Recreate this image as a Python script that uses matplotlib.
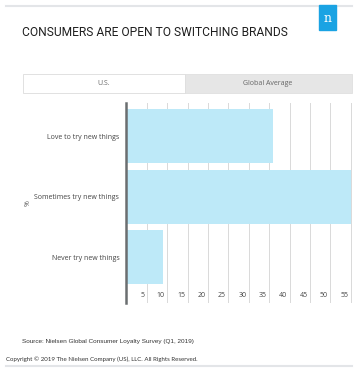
import matplotlib.pyplot as plt
from matplotlib.patches import Rectangle

# data (US, % of respondents)
answers = ["Love to try new things", "Sometimes try new things", "Never try new things"]
shares = [36, 55, 9]
ticks = [5, 10, 15, 20, 25, 30, 35, 40, 45, 50, 55]
tabs = ["U.S.", "Global Average"]

W, H = 359, 375
fig = plt.figure(figsize=(W / 100, H / 100), dpi=100)
fig.patch.set_facecolor("white")

def fx(px):
    return px / W

def fy(py):
    return 1 - py / H

# top rule and bottom rule
fig.add_artist(plt.Line2D([fx(6), fx(352)], [fy(6), fy(6)], color="#e3e5e8", lw=1.5))
fig.add_artist(plt.Line2D([fx(6), fx(352)], [fy(366), fy(366)], color="#e3e5e8", lw=1.5))

# nielsen logo
fig.add_artist(Rectangle((fx(319), fy(30)), fx(17), 25 / H, color="#1aa3e3", zorder=3))
fig.text(fx(327.5), fy(19), "n", color="white", fontsize=9, family="DejaVu Serif",
         ha="center", va="center", zorder=4)

# title, sized so it spans about 264 px like the original condensed face
title = fig.text(fx(22), fy(33), "CONSUMERS ARE OPEN TO SWITCHING BRANDS", fontsize=10,
                 family="Roboto", color="#1e1e1e", va="center")
r = fig.canvas.get_renderer()
w = title.get_window_extent(r).width
title.set_fontsize(10 * 264 / w)

# tabs
fig.add_artist(Rectangle((fx(185), fy(93)), fx(167), 19 / H, facecolor="#e6e6e6",
                         edgecolor="#e0e0e0", lw=0.6))
fig.add_artist(Rectangle((fx(23), fy(93)), fx(162), 19 / H, facecolor="white",
                         edgecolor="#dcdcdc", lw=0.6))
fig.text(fx(104), fy(83.5), tabs[0], fontsize=5, color="#666666", ha="center", va="center",
         family="Open Sans")
fig.text(fx(268), fy(83.5), tabs[1], fontsize=5, color="#666666", ha="center", va="center",
         family="Open Sans")

# chart
ax = fig.add_axes([fx(126.3), fy(303), fx(351.6) - fx(126.3), (303 - 103) / H])
pos = list(range(len(answers)))
ax.barh(pos, shares, height=0.89, color="#bde9f8", zorder=2)
ax.set_xlim(0, 55.2)
ax.set_ylim(2.75, -0.544)
for t in ticks:
    ax.axvline(t, color="#d9d9d9", lw=0.7, zorder=1)
    ax.text(t - 0.6, 2.62, str(t), fontsize=5, color="#444444", ha="right", va="center",
            family="Open Sans")
ax.set_xticks([])
ax.set_yticks(pos)
ax.set_yticklabels(answers, fontsize=5, color="#444444", family="Open Sans")
ax.tick_params(axis="y", length=0, pad=5)
for s in ["top", "right", "bottom"]:
    ax.spines[s].set_visible(False)
ax.spines["left"].set_color("#6b6e70")
ax.spines["left"].set_linewidth(1.8)
ax.spines["left"].set_zorder(3)

fig.text(fx(28), fy(203), "%", fontsize=5, color="#555555", rotation=90, ha="center",
         va="center", family="Open Sans")

# footer
fig.text(fx(22), fy(341), "Source: Nielsen Global Consumer Loyalty Survey (Q1, 2019)",
         fontsize=4.6, color="#333333", va="center", family="Liberation Sans")
fig.text(fx(6), fy(359), "Copyright \u00a9 2019 The Nielsen Company (US), LLC. All Rights Reserved.",
         fontsize=4.4, color="#333333", va="center", family="Lato")

fig.savefig("out.png", dpi=100)
